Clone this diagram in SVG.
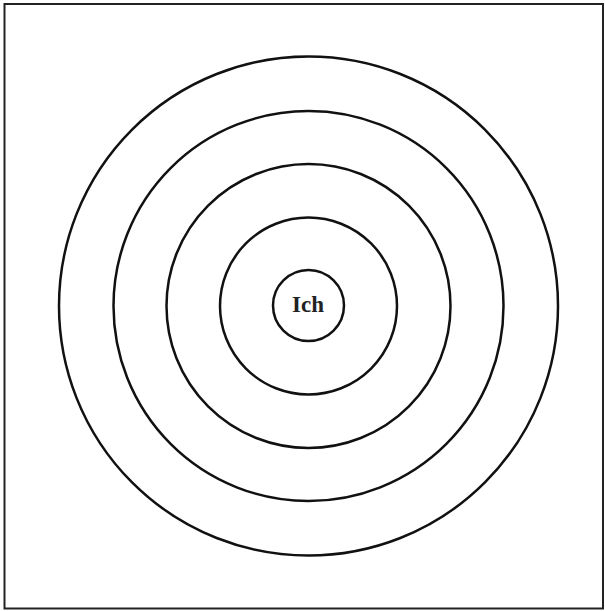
<svg xmlns="http://www.w3.org/2000/svg" width="605" height="611" viewBox="0 0 605 611">
<style>
.ring{fill:none;stroke:#111;stroke-width:2.5}
.lbl{font-family:"Liberation Serif",serif;font-weight:bold;font-size:23px;fill:#222;text-anchor:middle}
</style>
<rect x="0" y="0" width="605" height="611" fill="#fff"/>
<rect x="4.5" y="4" width="598.5" height="604.5" fill="none" stroke="#222" stroke-width="2"/>
<g id="ring5"><circle class="ring" cx="308.5" cy="306" r="249.5"/></g>
<g id="ring4"><circle class="ring" cx="308.5" cy="306" r="195"/></g>
<g id="ring3"><circle class="ring" cx="308.5" cy="306" r="142"/></g>
<g id="ring2"><circle class="ring" cx="308.5" cy="306" r="88.5"/></g>
<g id="ich"><circle class="ring" cx="308.5" cy="305.5" r="35.5"/><text class="lbl" x="308" y="312">Ich</text></g>
</svg>
